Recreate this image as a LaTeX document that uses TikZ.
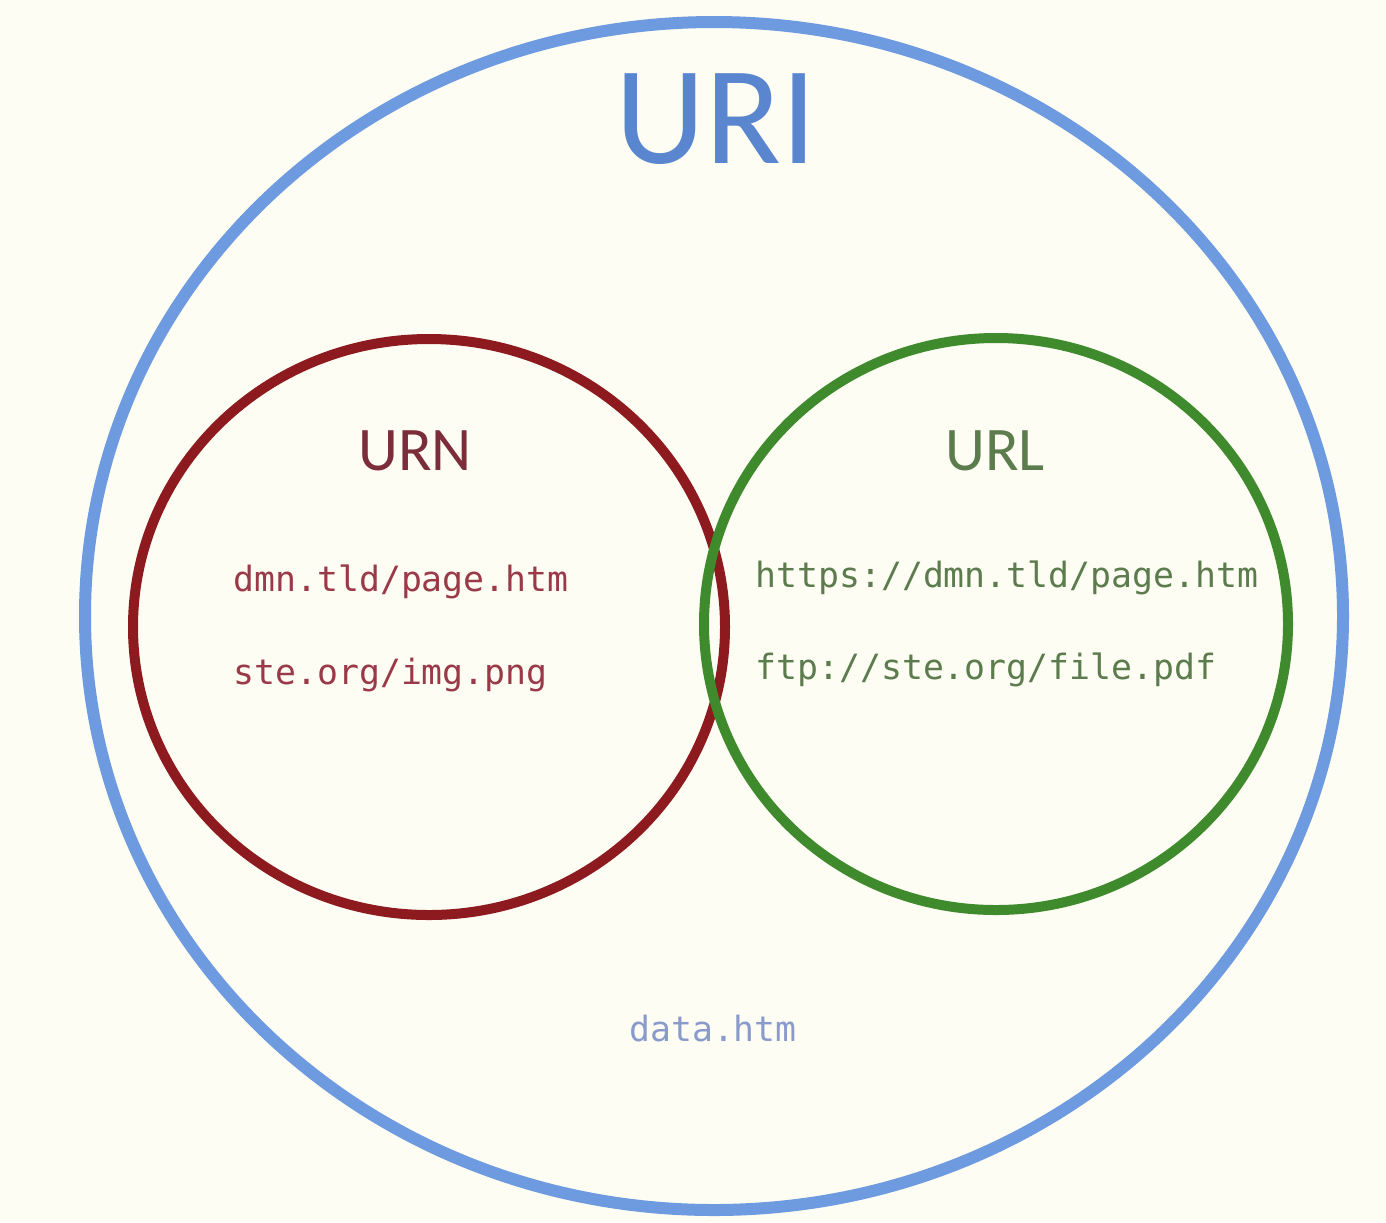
\documentclass[tikz,border=0pt]{standalone}
\usepackage{fontspec}
\setmainfont{Carlito}
\newfontfamily\codefont{DejaVu Sans Mono}
\definecolor{paper}{HTML}{FDFDF3}
\definecolor{uriblue}{HTML}{6E9ADF}
\definecolor{uritext}{HTML}{5A86CF}
\definecolor{urnred}{HTML}{8C1A1E}
\definecolor{urntext}{HTML}{9A3A48}
\definecolor{urlgreen}{HTML}{3F8A2C}
\definecolor{urltext}{HTML}{5C7C4E}
\definecolor{datatext}{HTML}{8A9BCB}
\begin{document}
\begin{tikzpicture}[x=0.5pt,y=-0.5pt,
  title/.style={font=\fontsize{70}{70}\selectfont, text=uritext, inner sep=0pt},
  setlabel/.style={font=\fontsize{31}{31}\selectfont, inner sep=0pt},
  example/.style={font=\codefont\fontsize{17.4}{17.4}\selectfont, inner sep=0pt}]
  % page
  \fill[paper] (0,0) rectangle (1386,1222);
  \useasboundingbox (0,0) rectangle (1386,1222);
  % sets
  \draw[uriblue, line width=6pt] (714,616) ellipse [x radius=629, y radius=594];
  \draw[urnred, line width=5pt] (429,627) ellipse [x radius=296, y radius=288];
  \draw[urlgreen, line width=5pt] (996,624) ellipse [x radius=292, y radius=286];
  % labels
  \node[title, anchor=base] (uri) at (716,163) {URI};
  \node[setlabel, text=urntext!80!black, anchor=base] (urn) at (415,470) {URN};
  \node[setlabel, text=urltext, anchor=base] (url) at (995,470) {URL};
  % examples
  \node[example, text=urntext, anchor=base west] (urn1) at (233,591) {dmn.tld/page.htm};
  \node[example, text=urntext, anchor=base west] (urn2) at (233,684) {ste.org/img.png};
  \node[example, text=urltext, anchor=base west] (url1) at (755,587) {https://dmn.tld/page.htm};
  \node[example, text=urltext, anchor=base west] (url2) at (755,679) {ftp://ste.org/file.pdf};
  \node[example, text=datatext, anchor=base] (data) at (713,1041) {data.htm};
\end{tikzpicture}
\end{document}
